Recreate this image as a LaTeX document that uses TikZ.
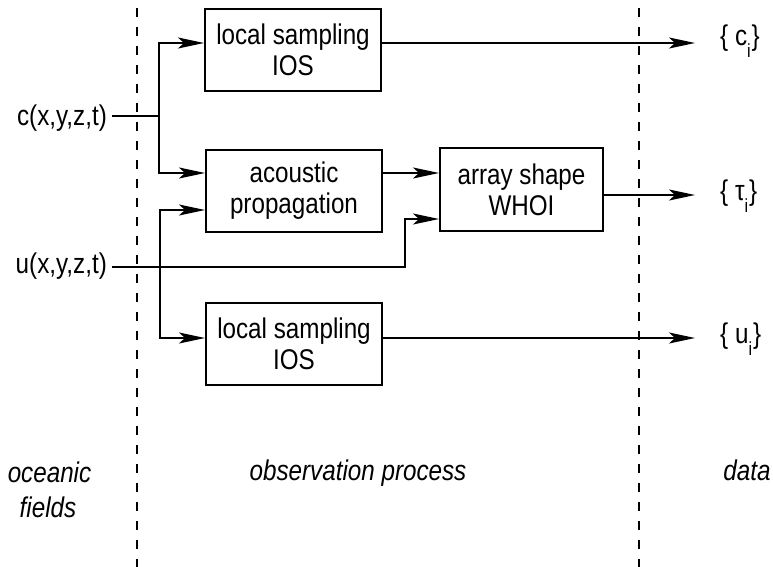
\documentclass[tikz,border=0pt]{standalone}
\usepackage{fontspec}
\setmainfont[FakeStretch=0.85]{Liberation Sans}
\usetikzlibrary{arrows.meta,calc}

\newcommand\lbl{\fontsize{28.5}{31}\selectfont}
\newcommand\lowsub[1]{\raisebox{-12pt}{\fontsize{19}{19}\selectfont #1}}

\tikzset{
  wire/.style={line width=2pt},
  feed/.style={wire,-{Stealth[length=26pt,width=11pt,inset=6pt]}},
  blockbox/.style={draw,line width=2pt,minimum width=176pt,minimum height=82pt,
    inner sep=0pt,align=center,font=\lbl},
  divider/.style={line width=2pt,dash pattern=on 9pt off 10pt},
  txt/.style={inner sep=0pt,font=\lbl},
  zone/.style={inner sep=0pt,font=\lbl\itshape},
}

\begin{document}
\begin{tikzpicture}[x=1pt,y=-1pt]
\useasboundingbox (0,0) rectangle (773,567);

% zone dividers
\draw[divider] (137,8) -- (137,567);
\draw[divider] (639,8) -- (639,567);

% processing blocks
\node[blockbox] (ls1) at (293,50) {local sampling\\IOS};
\node[blockbox] (ap) at (294,191) {acoustic\\propagation};
\node[blockbox,minimum width=163pt,minimum height=83pt] (as) at (521.5,189.5) {array shape\\WHOI};
\node[blockbox] (ls2) at (294,344) {local sampling\\IOS};

% oceanic fields
\node[txt,anchor=base east] (c) at (107,125) {c(x,y,z,t)};
\node[txt,anchor=base east] (u) at (107,273) {u(x,y,z,t)};

% data
\node[txt,anchor=base west] (ci) at (720,46) {\{ c\lowsub{i}\kern1pt\}};
\node[txt,anchor=base west] (ti) at (720,200) {\{ τ\lowsub{i}\kern1pt\}};
\node[txt,anchor=base west] (ui) at (720,343) {\{ u\lowsub{i}\kern1pt\}};

% zone titles
\node[zone,anchor=base] (ocn) at (49.5,482) {oceanic};
\node[zone,anchor=base] (fld) at (48,517) {fields};
\node[zone,anchor=base] (obs) at (358,480) {observation process};
\node[zone,anchor=base] (dat) at (747,480) {data};

% branch points and levels
\coordinate (cj) at (159,116);
\coordinate (uj) at (160,267);
\coordinate (ub) at (405,267);
\coordinate (y1) at (0,43);
\coordinate (y2) at (0,173);
\coordinate (y3) at (0,210);
\coordinate (y4) at (0,219);
\coordinate (y5) at (0,195);
\coordinate (y6) at (0,338);

% c(x,y,z,t) feeds
\draw[wire] ([xshift=5pt]c.east |- cj) -- (cj);
\draw[feed] (cj) |- (ls1.west |- y1);
\draw[feed] (cj) |- (ap.west |- y2);

% u(x,y,z,t) feeds
\draw[wire] ([xshift=5pt]u.east |- uj) -- (uj);
\draw[feed] (uj) |- (ap.west |- y3);
\draw[feed] (uj) |- (ls2.west |- y6);
\draw[feed] (uj) -- (ub) |- (as.west |- y4);

% propagation to array shape
\draw[feed] (ap.east |- y2) -- (as.west |- y2);

% outputs
\draw[feed] (ls1.east |- y1) -- ([xshift=-25pt]ci.west |- y1);
\draw[feed] (as.east |- y5) -- ([xshift=-25pt]ti.west |- y5);
\draw[feed] (ls2.east |- y6) -- ([xshift=-25pt]ui.west |- y6);
\end{tikzpicture}
\end{document}
